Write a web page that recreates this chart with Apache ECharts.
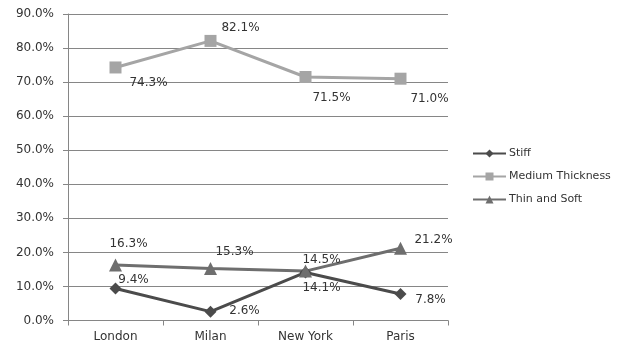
<!DOCTYPE html>
<html>
<head>
<meta charset="utf-8">
<script src="https://cdn.jsdelivr.net/npm/echarts@6/dist/echarts.min.js"></script>
<style>
  html, body { margin: 0; padding: 0; background: #fff; }
  #chart { width: 631px; height: 345px; }
</style>
</head>
<body>
<div id="chart"></div>
<script>
// Cities on the category axis
const cities = ['London', 'Milan', 'New York', 'Paris'];

// Share of respondents (%) per preference
const stiff = [9.4, 2.6, 14.1, 7.8];
const mediumThickness = [74.3, 82.1, 71.5, 71.0];
const thinAndSoft = [16.3, 15.3, 14.5, 21.2];

// Value-axis ticks
const yMin = 0, yMax = 90, yStep = 10;

// Label nudges (px) from each marker, per series
const stiffLabelShift = [[18, -9], [34, -1], [16, 15], [30, 6]];
const mediumLabelShift = [[33, 15], [30, -13], [26, 21], [29, 20]];
const thinLabelShift = [[13, -21], [24, -17], [16, -11], [33, -8]];

const FONT = 'DejaVu Sans';
const TEXT = '#333333';

function points(values, shifts) {
  return values.map((v, i) => ({
    value: v,
    label: { offset: shifts[i] }
  }));
}

function lineSeries(name, values, shifts, color, symbol, size) {
  return {
    name: name,
    type: 'line',
    data: points(values, shifts),
    symbol: symbol,
    symbolSize: size,
    lineStyle: { color: color, width: 3 },
    itemStyle: { color: color },
    label: {
      show: true,
      position: 'inside',
      align: 'center',
      verticalAlign: 'middle',
      color: TEXT,
      fontFamily: FONT,
      fontSize: 12,
      formatter: p => p.value.toFixed(1) + '%'
    },
    emphasis: { disabled: true },
    animation: false
  };
}

const chart = echarts.init(document.getElementById('chart'), null, { renderer: 'canvas' });
chart.setOption({
  backgroundColor: '#ffffff',
  animation: false,
  grid: { left: 68, right: 183, top: 14, bottom: 24.5, containLabel: false },
  legend: {
    orient: 'vertical',
    left: 467,
    top: 143,
    itemGap: 12,
    itemWidth: 33,
    itemHeight: 10,
    textStyle: { fontFamily: FONT, fontSize: 11, color: TEXT, padding: [0, 0, 0, -2] },
    data: ['Stiff', 'Medium Thickness', 'Thin and Soft']
  },
  xAxis: {
    type: 'category',
    data: cities,
    boundaryGap: true,
    axisLine: { lineStyle: { color: '#868686', width: 1 } },
    axisTick: { show: true, length: 5, lineStyle: { color: '#868686' } },
    axisLabel: { fontFamily: FONT, fontSize: 12, color: TEXT, margin: 10 }
  },
  yAxis: {
    type: 'value',
    min: yMin,
    max: yMax,
    interval: yStep,
    axisLine: { show: true, lineStyle: { color: '#868686', width: 1 } },
    axisTick: { show: true, length: 5, lineStyle: { color: '#868686' } },
    splitLine: { lineStyle: { color: '#868686', width: 1 } },
    axisLabel: {
      fontFamily: FONT, fontSize: 12, color: TEXT, margin: 14,
      formatter: v => v.toFixed(1) + '%'
    }
  },
  series: [
    lineSeries('Stiff', stiff, stiffLabelShift, '#4b4b4b', 'diamond', 12),
    lineSeries('Medium Thickness', mediumThickness, mediumLabelShift, '#a5a5a5', 'rect', 12),
    lineSeries('Thin and Soft', thinAndSoft, thinLabelShift, '#6e6e6e', 'triangle', 13)
  ]
});
</script>
</body>
</html>
